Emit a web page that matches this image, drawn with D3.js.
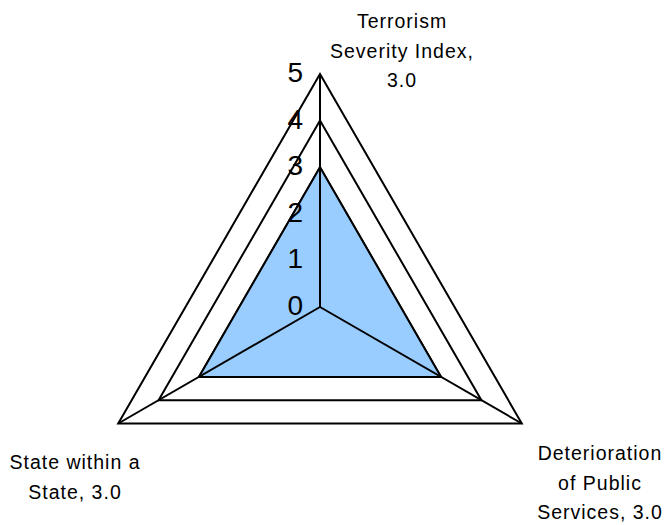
<!DOCTYPE html>
<html>
<head>
<meta charset="utf-8">
<script src="https://cdn.jsdelivr.net/npm/d3@7"></script>
<style>
  html, body { margin: 0; padding: 0; background: #fff; }
  svg { display: block; }
  text { font-family: "Liberation Sans", Arial, sans-serif; fill: #000; }
</style>
</head>
<body>
<svg id="chart" width="670" height="525"></svg>
<script>
// ---- data ----
const categories = ["Terrorism Severity Index", "Deterioration of Public Services", "State within a State"];
const values = [3.0, 3.0, 3.0];
const tickValues = [0, 1, 2, 3, 4, 5];
const tickLabels = ["0", "1", "2", "3", "4", "5"];
const labelLines = [
  ["Terrorism", "Severity Index,", "3.0"],
  ["Deterioration", "of Public", "Services, 3.0"],
  ["State within a", "State, 3.0"]
];

// ---- layout ----
const svg = d3.select("#chart");
const cx = 320, cy = 307, R = 233;
const r = d3.scaleLinear().domain([0, 5]).range([0, R]);
const angle = d3.scaleLinear().domain([0, categories.length]).range([-Math.PI / 2, 1.5 * Math.PI]);
const pt = (i, v) => [cx + r(v) * Math.cos(angle(i)), cy + r(v) * Math.sin(angle(i))];
const line = d3.line().curve(d3.curveLinearClosed);
const idx = d3.range(categories.length);

// gridlines
svg.append("g").selectAll("path").data(tickValues.filter(t => t > 0)).join("path")
  .attr("d", t => line(idx.map(i => pt(i, t))))
  .attr("fill", "none").attr("stroke", "#000").attr("stroke-width", 2)
  .attr("stroke-linejoin", "miter");

// data polygon
svg.append("path")
  .attr("d", line(idx.map(i => pt(i, values[i]))))
  .attr("fill", "#99CCFF").attr("stroke", "#000").attr("stroke-width", 2)
  .attr("stroke-linejoin", "miter");

// spokes
svg.append("g").selectAll("line").data(idx).join("line")
  .attr("x1", cx).attr("y1", cy)
  .attr("x2", i => pt(i, 5)[0]).attr("y2", i => pt(i, 5)[1])
  .attr("stroke", "#000").attr("stroke-width", 2);

// tick labels
svg.append("g").selectAll("text").data(tickValues).join("text")
  .attr("x", cx - 17)
  .attr("y", (t) => cy - r(t) + 8)
  .attr("text-anchor", "end")
  .attr("font-size", 28)
  .text((t, i) => tickLabels[i]);

// category labels
const labelPos = [
  { x: 402, y: 28 },
  { x: 600, y: 460 },
  { x: 75, y: 469 }
];
const g = svg.append("g");
labelLines.forEach((lines, i) => {
  const t = g.append("text")
    .attr("text-anchor", "middle")
    .attr("font-size", 19.5)
    .attr("letter-spacing", 1);
  lines.forEach((s, j) => {
    t.append("tspan").attr("x", labelPos[i].x).attr("y", labelPos[i].y + j * 29.5).text(s);
  });
});
</script>
</body>
</html>
